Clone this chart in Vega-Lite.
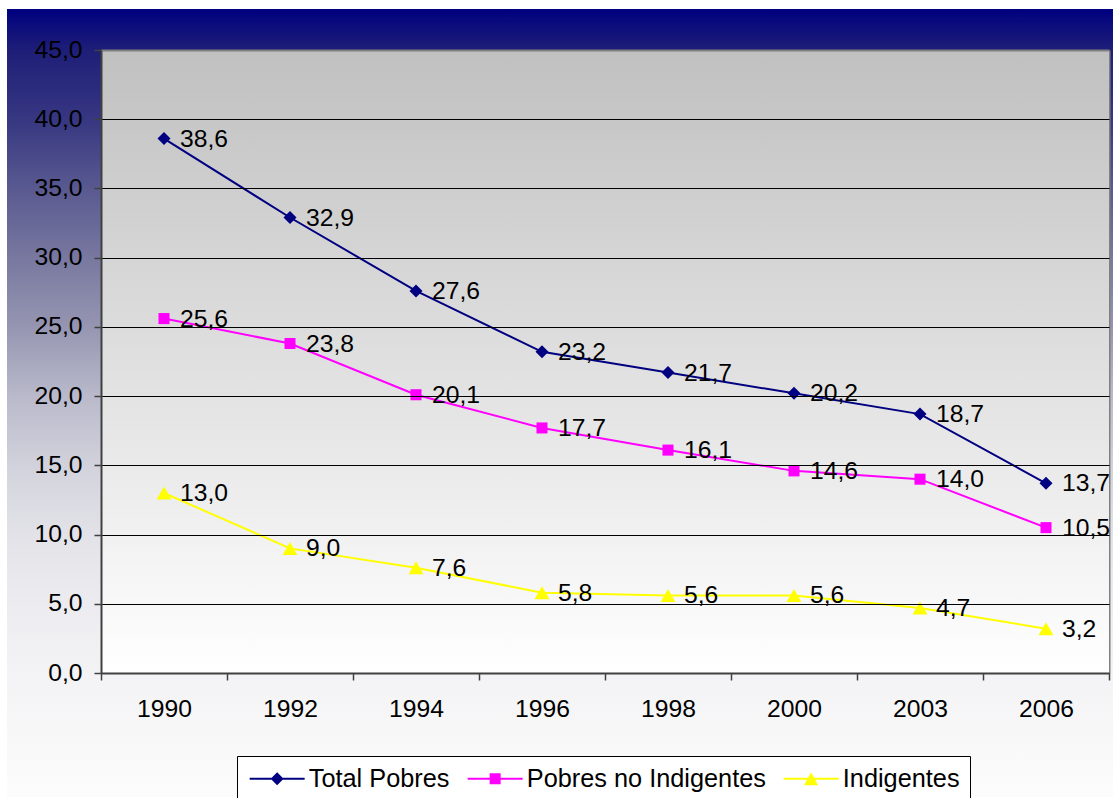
{
  "$schema": "https://vega.github.io/schema/vega-lite/v6.json",
  "width": 1106,
  "height": 788,
  "autosize": {"type": "none"},
  "padding": {"left": 7, "top": 9, "right": 1, "bottom": 1},
  "background": "#ffffff",
  "data": {
    "values": [
      {"year": "1990", "series": "Total Pobres", "value": 38.6},
      {"year": "1992", "series": "Total Pobres", "value": 32.9},
      {"year": "1994", "series": "Total Pobres", "value": 27.6},
      {"year": "1996", "series": "Total Pobres", "value": 23.2},
      {"year": "1998", "series": "Total Pobres", "value": 21.7},
      {"year": "2000", "series": "Total Pobres", "value": 20.2},
      {"year": "2003", "series": "Total Pobres", "value": 18.7},
      {"year": "2006", "series": "Total Pobres", "value": 13.7},
      {"year": "1990", "series": "Pobres no Indigentes", "value": 25.6},
      {"year": "1992", "series": "Pobres no Indigentes", "value": 23.8},
      {"year": "1994", "series": "Pobres no Indigentes", "value": 20.1},
      {"year": "1996", "series": "Pobres no Indigentes", "value": 17.7},
      {"year": "1998", "series": "Pobres no Indigentes", "value": 16.1},
      {"year": "2000", "series": "Pobres no Indigentes", "value": 14.6},
      {"year": "2003", "series": "Pobres no Indigentes", "value": 14.0},
      {"year": "2006", "series": "Pobres no Indigentes", "value": 10.5},
      {"year": "1990", "series": "Indigentes", "value": 13.0},
      {"year": "1992", "series": "Indigentes", "value": 9.0},
      {"year": "1994", "series": "Indigentes", "value": 7.6},
      {"year": "1996", "series": "Indigentes", "value": 5.8},
      {"year": "1998", "series": "Indigentes", "value": 5.6},
      {"year": "2000", "series": "Indigentes", "value": 5.6},
      {"year": "2003", "series": "Indigentes", "value": 4.7},
      {"year": "2006", "series": "Indigentes", "value": 3.2}
    ]
  },
  "config": {
    "font": "Liberation Sans",
    "locale": {"number": {"decimal": ",", "thousands": ".", "grouping": [3], "currency": ["", ""]}},
    "view": {
      "stroke": null,
      "fill": {
        "gradient": "linear", "x1": 0, "y1": 0, "x2": 0, "y2": 1,
        "stops": [
          {"offset": 0, "color": "#000080"},
          {"offset": 0.052, "color": "#1e1e78"},
          {"offset": 0.141, "color": "#373782"},
          {"offset": 0.23, "color": "#5a5a91"},
          {"offset": 0.316, "color": "#7878a0"},
          {"offset": 0.405, "color": "#9696b2"},
          {"offset": 0.491, "color": "#b9b9cb"},
          {"offset": 0.579, "color": "#d2d2dc"},
          {"offset": 0.666, "color": "#e2e2e8"},
          {"offset": 0.754, "color": "#ececf0"},
          {"offset": 0.841, "color": "#f3f3f5"},
          {"offset": 1, "color": "#fcfcfc"}
        ]
      }
    }
  },
  "resolve": {
    "scale": {"color": "independent", "shape": "independent"},
    "axis": {"y": "independent", "x": "independent"}
  },
  "layer": [
    {
      "transform": [{"filter": "datum.series === 'Total Pobres'"}],
      "mark": {
        "type": "rect",
        "fill": {
          "gradient": "linear", "x1": 0, "y1": 0, "x2": 0, "y2": 1,
          "stops": [
            {"offset": 0, "color": "#c0c0c0"},
            {"offset": 1, "color": "#ffffff"}
          ]
        },
        "strokeWidth": 0
      },
      "encoding": {
        "x": {
          "field": "year", "type": "ordinal",
          "scale": {"type": "band", "domain": ["1990", "1992", "1994", "1996", "1998", "2000", "2003", "2006"], "range": [94, 1102], "paddingInner": 0, "paddingOuter": 0},
          "axis": {
            "orient": "bottom", "offset": -124, "title": null, "tickBand": "extent",
            "tickSize": 7, "tickWidth": 1.5, "tickColor": "#404040",
            "domainColor": "#404040", "domainWidth": 2,
            "labelFontSize": 24.7, "labelColor": "#000000", "labelPadding": 16, "labelAngle": 0,
            "grid": false, "zindex": 1
          }
        },
        "y": {
          "datum": 0, "type": "quantitative",
          "scale": {"domain": [0, 45], "range": [664, 41], "nice": false, "zero": false},
          "axis": {
            "orient": "left", "offset": -94, "title": null,
            "values": [0, 5, 10, 15, 20, 25, 30, 35, 40, 45], "format": ".1f",
            "tickSize": 7, "tickWidth": 1.5, "tickColor": "#404040",
            "domainColor": "#404040", "domainWidth": 2,
            "labelFontSize": 24.7, "labelColor": "#000000", "labelPadding": 12, "labelOverlap": false,
            "grid": true,
            "gridColor": {"condition": {"test": "datum.value === 45", "value": "#808080"}, "value": "#000000"},
            "gridWidth": {"condition": {"test": "datum.value === 45", "value": 2}, "value": 1},
            "zindex": 1
          }
        },
        "y2": {"datum": 45}
      }
    },
    {
      "mark": {"type": "line", "strokeWidth": 2},
      "encoding": {
        "x": {"field": "year", "type": "ordinal", "scale": {"type": "band", "domain": ["1990", "1992", "1994", "1996", "1998", "2000", "2003", "2006"], "range": [94, 1102], "paddingInner": 0, "paddingOuter": 0}, "axis": null},
        "y": {
          "field": "value", "type": "quantitative",
          "scale": {"domain": [0, 45], "range": [664, 41], "nice": false, "zero": false},
          "axis": {"orient": "right", "offset": -4, "title": null, "labels": false, "ticks": false, "grid": false, "domainColor": "#808080", "domainWidth": 2}
        },
        "color": {
          "field": "series", "type": "nominal",
          "scale": {"domain": ["Total Pobres", "Pobres no Indigentes", "Indigentes"], "range": ["#000080", "#ff00ff", "#ffff00"]},
          "legend": null
        }
      }
    },
    {
      "mark": {"type": "point", "filled": true, "opacity": 1, "size": 169, "strokeWidth": 0},
      "encoding": {
        "x": {"field": "year", "type": "ordinal", "scale": {"type": "band", "domain": ["1990", "1992", "1994", "1996", "1998", "2000", "2003", "2006"], "range": [94, 1102], "paddingInner": 0, "paddingOuter": 0}, "axis": null},
        "y": {"field": "value", "type": "quantitative", "scale": {"domain": [0, 45], "range": [664, 41], "nice": false, "zero": false}, "axis": null},
        "color": {
          "field": "series", "type": "nominal",
          "scale": {"domain": ["Total Pobres", "Pobres no Indigentes", "Indigentes"], "range": ["#000080", "#ff00ff", "#ffff00"]},
          "legend": null
        },
        "shape": {
          "field": "series", "type": "nominal",
          "scale": {"domain": ["Total Pobres", "Pobres no Indigentes", "Indigentes"], "range": ["M0,-1L1,0L0,1L-1,0Z", "M-0.85,-0.85H0.85V0.85H-0.85Z", "M0,-1L1.15,1L-1.15,1Z"]},
          "legend": null
        }
      }
    },
    {
      "mark": {"type": "text", "align": "left", "baseline": "middle", "dx": 16, "dy": 1, "fontSize": 24.7, "color": "#000000"},
      "encoding": {
        "x": {"field": "year", "type": "ordinal", "scale": {"type": "band", "domain": ["1990", "1992", "1994", "1996", "1998", "2000", "2003", "2006"], "range": [94, 1102], "paddingInner": 0, "paddingOuter": 0}, "axis": null},
        "y": {"field": "value", "type": "quantitative", "scale": {"domain": [0, 45], "range": [664, 41], "nice": false, "zero": false}, "axis": null},
        "text": {"field": "value", "type": "quantitative", "format": ".1f"}
      }
    },
    {
      "transform": [{"filter": "false"}],
      "mark": {"type": "point", "filled": true, "opacity": 1},
      "encoding": {
        "x": {"field": "year", "type": "ordinal", "scale": {"type": "band", "domain": ["1990", "1992", "1994", "1996", "1998", "2000", "2003", "2006"], "range": [94, 1102], "paddingInner": 0, "paddingOuter": 0}, "axis": null},
        "y": {"field": "value", "type": "quantitative", "scale": {"domain": [0, 45], "range": [664, 41], "nice": false, "zero": false}, "axis": null},
        "color": {
          "field": "series", "type": "nominal",
          "scale": {"domain": ["Total Pobres", "Pobres no Indigentes", "Indigentes"], "range": ["#000080", "#ff00ff", "#ffff00"]},
          "legend": {
            "title": null, "orient": "none", "legendX": 230, "legendY": 747, "direction": "horizontal", "columns": 3,
            "symbolSize": 400, "symbolOffset": 17.5, "symbolStrokeWidth": 0, "symbolOpacity": 1,
            "labelFontSize": 25.3, "labelColor": "#000000", "labelLimit": 400, "labelOffset": 19,
            "columnPadding": 15, "padding": 10, "strokeColor": "#000000", "fillColor": "#ffffff"
          }
        },
        "shape": {
          "field": "series", "type": "nominal",
          "scale": {"domain": ["Total Pobres", "Pobres no Indigentes", "Indigentes"], "range": [
            "M-2.75,-0.1H2.75V0.1H-2.75ZM0,-0.65L0.65,0L0,0.65L-0.65,0Z",
            "M-2.75,-0.1H2.75V0.1H-2.75ZM-0.55,-0.55H0.55V0.55H-0.55Z",
            "M-2.75,-0.1H2.75V0.1H-2.75ZM0,-0.65L0.7,0.65L-0.7,0.65Z"
          ]},
          "legend": {
            "title": null, "orient": "none", "legendX": 230, "legendY": 747, "direction": "horizontal", "columns": 3,
            "symbolSize": 400, "symbolOffset": 17.5, "symbolStrokeWidth": 0, "symbolOpacity": 1,
            "labelFontSize": 25.3, "labelColor": "#000000", "labelLimit": 400, "labelOffset": 19,
            "columnPadding": 15, "padding": 10, "strokeColor": "#000000", "fillColor": "#ffffff"
          }
        }
      }
    }
  ]
}
